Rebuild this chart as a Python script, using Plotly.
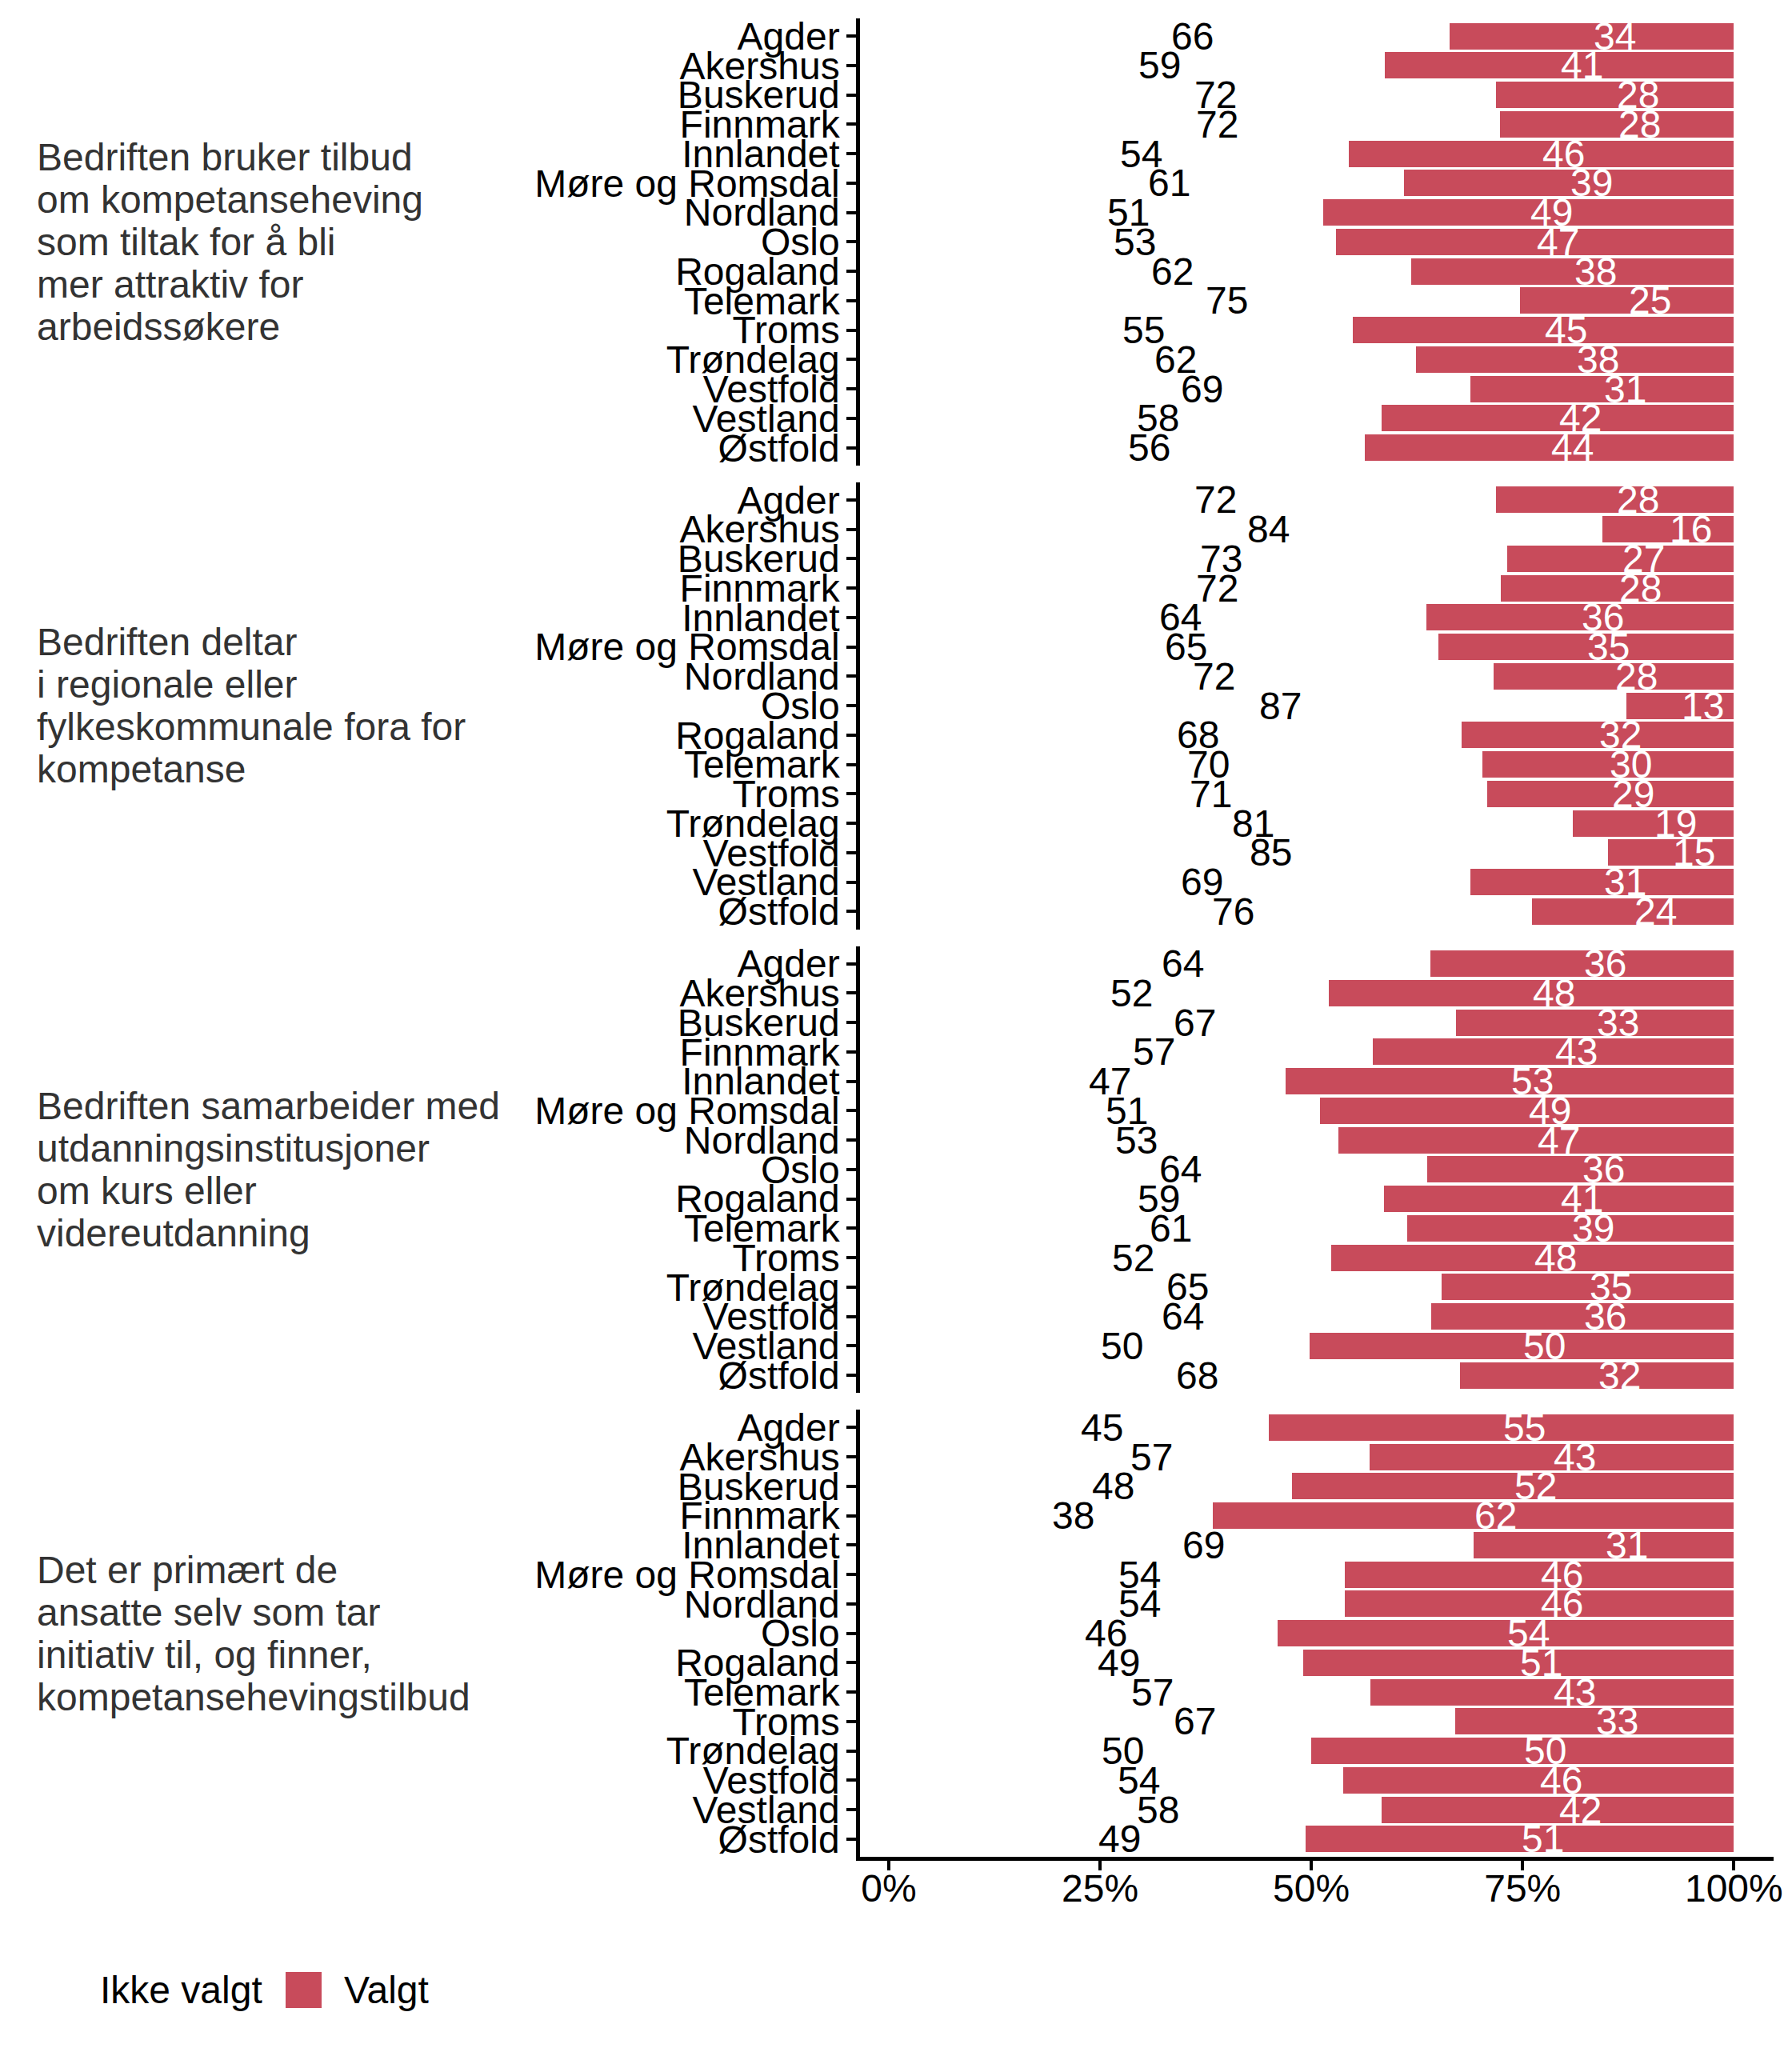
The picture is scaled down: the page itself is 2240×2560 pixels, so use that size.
import plotly.graph_objects as go
from plotly.subplots import make_subplots

regions = ["Agder", "Akershus", "Buskerud", "Finnmark", "Innlandet", "Møre og Romsdal",
           "Nordland", "Oslo", "Rogaland", "Telemark", "Troms", "Trøndelag",
           "Vestfold", "Vestland", "Østfold"]

facet_titles = [
    ["Bedriften bruker tilbud", "om kompetanseheving", "som tiltak for å bli",
     "mer attraktiv for", "arbeidssøkere"],
    ["Bedriften deltar", "i regionale eller", "fylkeskommunale fora for", "kompetanse"],
    ["Bedriften samarbeider med", "utdanningsinstitusjoner", "om kurs eller",
     "videreutdanning"],
    ["Det er primært de", "ansatte selv som tar", "initiativ til, og finner,",
     "kompetansehevingstilbud"],
]

# Share (%) answering "Valgt" per region, one list per statement
valgt_p1 = [33.6, 41.3, 28.1, 27.7, 45.6, 39.0, 48.6, 47.1, 38.2, 25.3, 45.1, 37.6, 31.2, 41.7, 43.7]
valgt_p2 = [28.1, 15.6, 26.8, 27.6, 36.4, 35.0, 28.4, 12.7, 32.2, 29.8, 29.2, 19.1, 14.9, 31.2, 23.9]
valgt_p3 = [35.9, 47.9, 32.9, 42.7, 53.0, 49.0, 46.8, 36.3, 41.4, 38.7, 47.6, 34.6, 35.8, 50.2, 32.4]
valgt_p4 = [55.0, 43.1, 52.3, 61.7, 30.8, 46.0, 46.0, 54.0, 51.0, 43.0, 33.0, 50.0, 46.2, 41.7, 50.7]
valgt_all = [valgt_p1, valgt_p2, valgt_p3, valgt_p4]

x_ticks = [0, 25, 50, 75, 100]
x_tick_text = ["0%", "25%", "50%", "75%", "100%"]
legend_labels = ["Ikke valgt", "Valgt"]

RED = "#C84B5B"
FONT = "Liberation Sans, Arial, sans-serif"
FS = 48

OFF = 8  # default page body margin
W, H = 2240 - OFF, 2560 - OFF
ML, MR, MT, MB = 1075 - OFF, 23, 23 - OFF, 239 - OFF
PW = W - ML - MR
PH = H - MT - MB
panel_h = 558.75
gap = 21


def px_x(p):
    # p: page pixel -> paper coordinate
    return (p - OFF - ML) / PW


def px_y(p):
    return 1 - (p - OFF - MT) / PH


fig = make_subplots(rows=4, cols=1, shared_xaxes=True)

annotations = []
for i, valgt in enumerate(valgt_all):
    row = i + 1
    ikke = [100 - v for v in valgt]
    fig.add_trace(go.Bar(y=regions, x=ikke, orientation="h", name=legend_labels[0],
                         marker=dict(color="rgba(255,255,255,0)", line=dict(width=0)),
                         showlegend=False, hoverinfo="skip"), row=row, col=1)
    fig.add_trace(go.Bar(y=regions, x=valgt, orientation="h", name=legend_labels[1],
                         marker=dict(color=RED, line=dict(width=0)),
                         showlegend=False, hoverinfo="skip"), row=row, col=1)
    suffix = "" if row == 1 else str(row)
    for r, ik, va in zip(regions, ikke, valgt):
        annotations.append(dict(x=ik / 2, y=r, xref="x" + suffix, yref="y" + suffix,
                                text=str(round(ik)), showarrow=False, xanchor="left",
                                yanchor="middle", font=dict(family=FONT, size=FS, color="black")))
        annotations.append(dict(x=ik + va / 2, y=r, xref="x" + suffix, yref="y" + suffix,
                                text=str(round(va)), showarrow=False, xanchor="left",
                                yanchor="middle", font=dict(family=FONT, size=FS, color="white")))
    # facet label lines (page pixels)
    top_px = 23 + i * (panel_h + gap)
    center = top_px + panel_h / 2
    lines = facet_titles[i]
    n = len(lines)
    for k, line in enumerate(lines):
        yc = center + (k - (n - 1) / 2) * 53
        annotations.append(dict(x=px_x(44), y=px_y(yc), xref="paper", yref="paper",
                                text=line, showarrow=False, xanchor="left", yanchor="middle",
                                font=dict(family=FONT, size=FS, color="#333333")))
    dom_top = 1 - (i * (panel_h + gap)) / PH
    dom_bot = dom_top - panel_h / PH
    fig.update_yaxes(domain=[max(dom_bot, 0), min(dom_top, 1)], row=row, col=1)

# manual legend
LEG_Y = 2487
annotations.append(dict(x=px_x(123), y=px_y(LEG_Y), xref="paper", yref="paper",
                        text=legend_labels[0], showarrow=False, xanchor="left", yanchor="middle",
                        font=dict(family=FONT, size=FS, color="black")))
annotations.append(dict(x=px_x(428), y=px_y(LEG_Y), xref="paper", yref="paper",
                        text=legend_labels[1], showarrow=False, xanchor="left", yanchor="middle",
                        font=dict(family=FONT, size=FS, color="black")))
shapes = [dict(type="rect", xref="paper", yref="paper",
               x0=px_x(357), x1=px_x(402), y0=px_y(LEG_Y + 23), y1=px_y(LEG_Y - 22),
               fillcolor=RED, line=dict(width=0))]

fig.update_yaxes(categoryorder="array", categoryarray=regions, range=[14.6, -0.6],
                 tickmode="array", tickvals=regions, ticktext=regions,
                 showline=True, linewidth=4.5, linecolor="black", ticks="outside",
                 ticklen=12, tickwidth=4, tickcolor="black", showgrid=False, zeroline=False,
                 tickfont=dict(family=FONT, size=FS, color="black"), ticklabelstandoff=-1,
                 fixedrange=True)
fig.update_xaxes(range=[-3.4, 104.7], showgrid=False, zeroline=False, showline=False,
                 ticks="", showticklabels=False, fixedrange=True)
fig.update_xaxes(showline=True, linewidth=4.5, linecolor="black", ticks="outside",
                 ticklen=12, tickwidth=4, tickcolor="black", showticklabels=True,
                 tickmode="array", tickvals=x_ticks, ticktext=x_tick_text,
                 ticklabelstandoff=-18,
                 tickfont=dict(family=FONT, size=FS, color="black"), row=4, col=1)

fig.update_layout(width=W, height=H, margin=dict(l=ML, r=MR, t=MT, b=MB, pad=0),
                  barmode="stack", bargap=0.1, plot_bgcolor="white", paper_bgcolor="white",
                  showlegend=False, annotations=annotations, shapes=shapes,
                  font=dict(family=FONT, size=FS, color="black"))

fig.write_html("out.html")
